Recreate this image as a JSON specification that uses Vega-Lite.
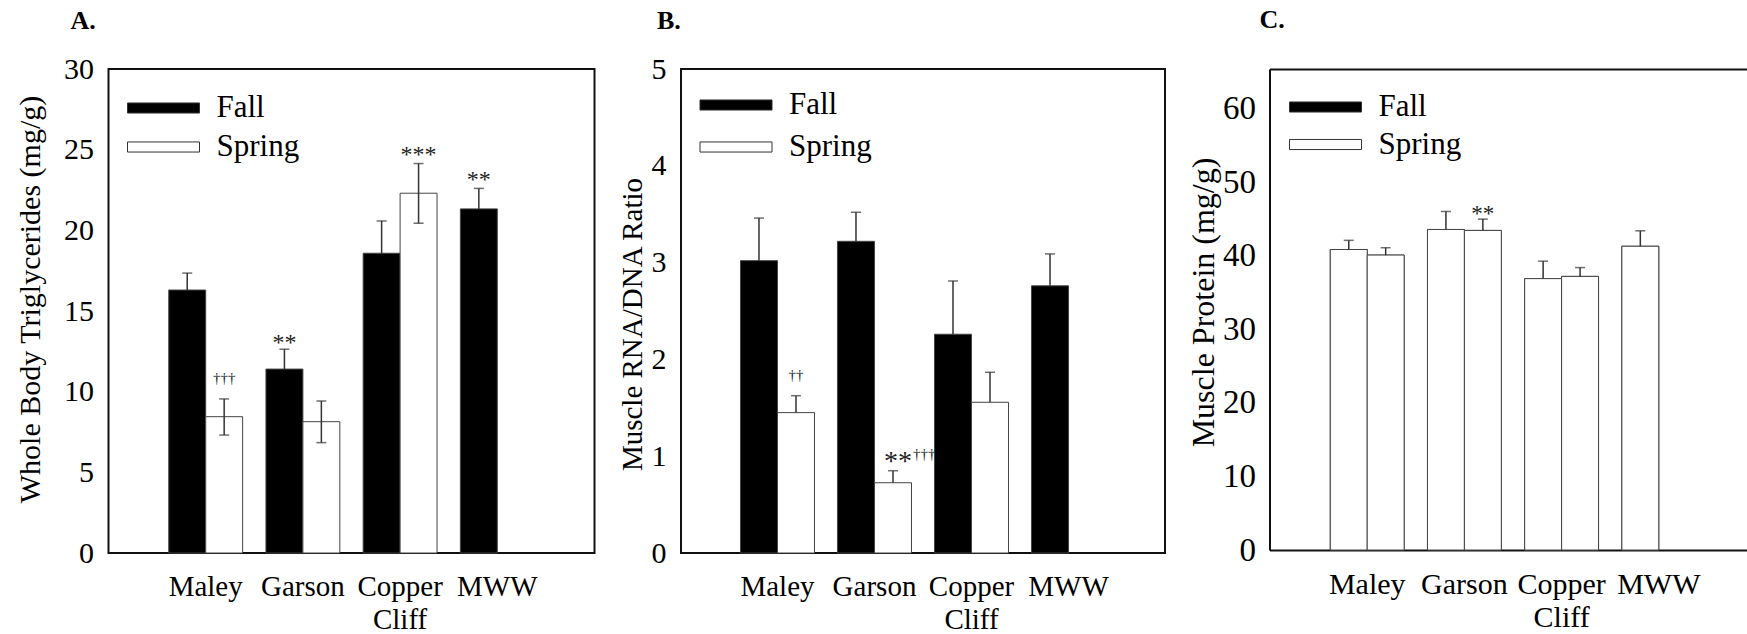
{
  "$schema": "https://vega.github.io/schema/vega-lite/v6.json",
  "padding": {"left": 14.5, "top": 7, "right": 0, "bottom": 0},
  "background": "white",
  "config": {
    "font": "Liberation Serif",
    "view": {"stroke": "#111", "strokeWidth": 2},
    "axis": {"labelFont": "Liberation Serif", "titleFont": "Liberation Serif", "labelColor": "#000", "titleColor": "#000", "ticks": false, "grid": false, "domain": false, "titleFontWeight": "normal", "domainColor": "#111", "domainWidth": 2},
    "axisY": {"labelFontSize": 30, "labelPadding": 15, "titleFontSize": 29},
    "axisX": {"labelFontSize": 29, "labelPadding": 19, "labelAngle": 0, "labelLineHeight": 33, "labelBaseline": "top"},
    "legend": {"title": null, "orient": "none", "direction": "vertical", "symbolType": "M-1.2917,-0.42L4.7083,-0.42L4.7083,0.42L-1.2917,0.42Z", "symbolSize": 576, "symbolStrokeColor": "#333", "symbolStrokeWidth": 1, "labelFont": "Liberation Serif", "labelFontSize": 31, "labelColor": "#000", "labelOffset": 58, "padding": 0, "labelBaseline": "middle"},
    "title": {"font": "Liberation Serif", "fontSize": 26, "fontWeight": "bold", "anchor": "start", "frame": "group", "baseline": "alphabetic", "color": "#000"},
    "text": {"font": "Liberation Serif", "color": "#222", "baseline": "alphabetic"}
  },
  "datasets": {
    "tri": [
      {"site": "Maley", "season": "Fall", "value": 16.3, "lo": 16.3, "hi": 17.35},
      {"site": "Maley", "season": "Spring", "value": 8.45, "lo": 7.31, "hi": 9.55},
      {"site": "Garson", "season": "Fall", "value": 11.4, "lo": 11.4, "hi": 12.63},
      {"site": "Garson", "season": "Spring", "value": 8.14, "lo": 6.84, "hi": 9.42},
      {"site": "Copper Cliff", "season": "Fall", "value": 18.58, "lo": 18.58, "hi": 20.58},
      {"site": "Copper Cliff", "season": "Spring", "value": 22.3, "lo": 20.44, "hi": 24.14},
      {"site": "MWW", "season": "Fall", "value": 21.33, "lo": 21.33, "hi": 22.6}
    ],
    "triNotes": [
      {"site": "Maley", "season": "Spring", "kind": "dagger", "label": "†††", "pos": 10.54},
      {"site": "Garson", "season": "Fall", "kind": "star", "label": "**", "pos": 12.58},
      {"site": "Copper Cliff", "season": "Spring", "kind": "star", "label": "***", "pos": 24.24},
      {"site": "MWW", "season": "Fall", "kind": "star", "label": "**", "pos": 22.7}
    ],
    "rna": [
      {"site": "Maley", "season": "Fall", "value": 3.02, "lo": 3.02, "hi": 3.46},
      {"site": "Maley", "season": "Spring", "value": 1.45, "lo": 1.45, "hi": 1.625},
      {"site": "Garson", "season": "Fall", "value": 3.22, "lo": 3.22, "hi": 3.52},
      {"site": "Garson", "season": "Spring", "value": 0.726, "lo": 0.726, "hi": 0.85},
      {"site": "Copper Cliff", "season": "Fall", "value": 2.26, "lo": 2.26, "hi": 2.81},
      {"site": "Copper Cliff", "season": "Spring", "value": 1.557, "lo": 1.557, "hi": 1.867},
      {"site": "MWW", "season": "Fall", "value": 2.76, "lo": 2.76, "hi": 3.09}
    ],
    "rnaNotes": [
      {"site": "Maley", "season": "Spring", "kind": "dagger", "label": "††", "pos": 1.787},
      {"site": "Garson", "season": "Spring", "kind": "star", "label": "**", "pos": 0.853},
      {"site": "Garson", "season": "Spring", "kind": "dagger", "label": "†††", "pos": 0.971}
    ],
    "prot": [
      {"site": "Maley", "season": "Fall", "value": 40.86, "lo": 40.86, "hi": 42.1},
      {"site": "Maley", "season": "Spring", "value": 40.1, "lo": 40.1, "hi": 41.1},
      {"site": "Garson", "season": "Fall", "value": 43.58, "lo": 43.58, "hi": 46.03},
      {"site": "Garson", "season": "Spring", "value": 43.45, "lo": 43.45, "hi": 44.99},
      {"site": "Copper Cliff", "season": "Fall", "value": 36.9, "lo": 36.9, "hi": 39.27},
      {"site": "Copper Cliff", "season": "Spring", "value": 37.2, "lo": 37.2, "hi": 38.4},
      {"site": "MWW", "season": "Fall", "value": 41.3, "lo": 41.3, "hi": 43.4}
    ],
    "protNotes": [
      {"site": "Garson", "season": "Spring", "kind": "star", "label": "**", "pos": 44.76}
    ]
  },
  "spacing": 21.5,
  "resolve": {"scale": {"x": "independent", "y": "independent", "xOffset": "independent", "fill": "independent"}},
  "hconcat": [
    {
      "title": {"text": "A.", "dx": -38, "offset": 20},
      "width": 486,
      "height": 484,
      "data": {"name": "tri"},
      "encoding": {
        "x": {"field": "site", "type": "nominal", "sort": ["Maley", "Garson", "Copper Cliff", "MWW"], "scale": {"paddingInner": 0.24, "paddingOuter": 0.62}, "axis": {"title": null, "labelExpr": "datum.label == 'Copper Cliff' ? ['Copper', 'Cliff'] : datum.label"}},
        "xOffset": {"field": "season", "type": "nominal", "sort": ["Fall", "Spring"], "scale": {"domain": ["Fall", "Spring"], "paddingInner": 0, "paddingOuter": 0}}
      },
      "layer": [
        {
          "mark": {"type": "bar", "stroke": "#444", "strokeWidth": 1},
          "encoding": {
            "y": {"field": "value", "type": "quantitative", "scale": {"domain": [0, 30], "nice": false}, "axis": {"title": "Whole Body Triglycerides (mg/g)", "titleFontSize": 30, "titleY": 230, "values": [0, 5, 10, 15, 20, 25, 30], "format": "d", "titlePadding": 18}},
            "fill": {"field": "season", "type": "nominal", "scale": {"domain": ["Fall", "Spring"], "range": ["#000000", "#ffffff"]}, "legend": {"legendX": 19, "legendY": 23.5, "rowPadding": 7}}
          }
        },
        {
          "mark": {"type": "rule", "color": "#333", "strokeWidth": 1.5},
          "encoding": {"y": {"field": "lo", "type": "quantitative"}, "y2": {"field": "hi"}}
        },
        {
          "mark": {"type": "tick", "color": "#333", "thickness": 1.5, "size": 10},
          "encoding": {"y": {"field": "hi", "type": "quantitative"}}
        },
        {
          "transform": [{"filter": "datum.lo < datum.value"}],
          "mark": {"type": "tick", "color": "#333", "thickness": 1.5, "size": 10},
          "encoding": {"y": {"field": "lo", "type": "quantitative"}}
        },
        {
          "data": {"name": "triNotes"},
          "transform": [{"filter": "datum.kind == 'star'"}],
          "mark": {"type": "text", "fontSize": 24},
          "encoding": {"y": {"field": "pos", "type": "quantitative"}, "text": {"field": "label"}}
        },
        {
          "data": {"name": "triNotes"},
          "transform": [{"filter": "datum.kind == 'dagger'"}],
          "mark": {"type": "text", "fontSize": 15},
          "encoding": {"y": {"field": "pos", "type": "quantitative"}, "text": {"field": "label"}}
        }
      ]
    },
    {
      "title": {"text": "B.", "dx": -24, "offset": 20},
      "width": 484,
      "height": 484,
      "data": {"name": "rna"},
      "encoding": {
        "x": {"field": "site", "type": "nominal", "sort": ["Maley", "Garson", "Copper Cliff", "MWW"], "scale": {"paddingInner": 0.237, "paddingOuter": 0.613}, "axis": {"title": null, "labelExpr": "datum.label == 'Copper Cliff' ? ['Copper', 'Cliff'] : datum.label"}},
        "xOffset": {"field": "season", "type": "nominal", "sort": ["Fall", "Spring"], "scale": {"domain": ["Fall", "Spring"], "paddingInner": 0, "paddingOuter": 0}}
      },
      "layer": [
        {
          "mark": {"type": "bar", "stroke": "#444", "strokeWidth": 1},
          "encoding": {
            "y": {"field": "value", "type": "quantitative", "scale": {"domain": [0, 5], "nice": false}, "axis": {"title": "Muscle RNA/DNA Ratio", "titleY": 255, "values": [0, 1, 2, 3, 4, 5], "format": "d", "titlePadding": 4}},
            "fill": {"field": "season", "type": "nominal", "scale": {"domain": ["Fall", "Spring"], "range": ["#000000", "#ffffff"]}, "legend": {"legendX": 19, "legendY": 20.5, "rowPadding": 10}}
          }
        },
        {
          "mark": {"type": "rule", "color": "#333", "strokeWidth": 1.5},
          "encoding": {"y": {"field": "lo", "type": "quantitative"}, "y2": {"field": "hi"}}
        },
        {
          "mark": {"type": "tick", "color": "#333", "thickness": 1.5, "size": 10},
          "encoding": {"y": {"field": "hi", "type": "quantitative"}}
        },
        {
          "data": {"name": "rnaNotes"},
          "transform": [{"filter": "datum.kind == 'star'"}],
          "mark": {"type": "text", "fontSize": 28, "dx": 5},
          "encoding": {"y": {"field": "pos", "type": "quantitative"}, "text": {"field": "label"}}
        },
        {
          "data": {"name": "rnaNotes"},
          "transform": [{"filter": "datum.kind == 'dagger' && datum.site != 'Garson'"}],
          "mark": {"type": "text", "fontSize": 15},
          "encoding": {"y": {"field": "pos", "type": "quantitative"}, "text": {"field": "label"}}
        },
        {
          "data": {"name": "rnaNotes"},
          "transform": [{"filter": "datum.kind == 'dagger' && datum.site == 'Garson'"}],
          "mark": {"type": "text", "fontSize": 15, "align": "left", "dx": 20},
          "encoding": {"y": {"field": "pos", "type": "quantitative"}, "text": {"field": "label"}}
        }
      ]
    },
    {
      "title": {"text": "C.", "dx": -10, "offset": 36},
      "width": 478,
      "height": 481,
      "view": {"stroke": null},
      "data": {"name": "prot"},
      "encoding": {
        "x": {"field": "site", "type": "nominal", "sort": ["Maley", "Garson", "Copper Cliff", "MWW"], "scale": {"paddingInner": 0.24, "paddingOuter": 0.579, "align": 0.54}, "axis": {"title": null, "domain": true, "labelFontSize": 30, "labelExpr": "datum.label == 'Copper Cliff' ? ['Copper', 'Cliff'] : datum.label"}},
        "xOffset": {"field": "season", "type": "nominal", "sort": ["Fall", "Spring"], "scale": {"domain": ["Fall", "Spring"], "paddingInner": 0, "paddingOuter": 0}}
      },
      "resolve": {"axis": {"x": "independent"}},
      "layer": [
        {
          "mark": {"type": "bar", "stroke": "#444", "strokeWidth": 1},
          "encoding": {
            "y": {"field": "value", "type": "quantitative", "scale": {"domain": [0, 65.4], "nice": false}, "axis": {"title": "Muscle Protein (mg/g)", "titleFontSize": 32, "labelFontSize": 33, "titleY": 233, "values": [0, 10, 20, 30, 40, 50, 60], "format": "d", "titlePadding": 2, "labelPadding": 14, "domain": true}},
            "fill": {"field": "season", "type": "nominal", "scale": {"domain": ["Fall", "Spring"], "range": ["#000000", "#ffffff"]}, "legend": {"legendX": 20, "legendY": 22.5, "rowPadding": 5.5}}
          }
        },
        {
          "mark": {"type": "bar", "fill": "#ffffff", "stroke": "#444", "strokeWidth": 1},
          "encoding": {
            "x": {"field": "site", "type": "nominal", "sort": ["Maley", "Garson", "Copper Cliff", "MWW"], "axis": null},
            "y": {"field": "value", "type": "quantitative"}
          }
        },
        {
          "mark": {"type": "rule", "color": "#333", "strokeWidth": 1.5},
          "encoding": {
            "x": {"field": "site", "type": "nominal", "sort": ["Maley", "Garson", "Copper Cliff", "MWW"], "axis": {"orient": "top", "title": null, "labels": false, "domain": true, "ticks": false}},
            "y": {"field": "lo", "type": "quantitative"},
            "y2": {"field": "hi"}
          }
        },
        {
          "mark": {"type": "tick", "color": "#333", "thickness": 1.5, "size": 10},
          "encoding": {
            "x": {"field": "site", "type": "nominal", "sort": ["Maley", "Garson", "Copper Cliff", "MWW"], "axis": null},
            "y": {"field": "hi", "type": "quantitative"}
          }
        },
        {
          "data": {"name": "protNotes"},
          "mark": {"type": "text", "fontSize": 23},
          "encoding": {
            "x": {"field": "site", "type": "nominal", "sort": ["Maley", "Garson", "Copper Cliff", "MWW"], "axis": null},
            "y": {"field": "pos", "type": "quantitative"},
            "text": {"field": "label"}
          }
        }
      ]
    }
  ]
}
